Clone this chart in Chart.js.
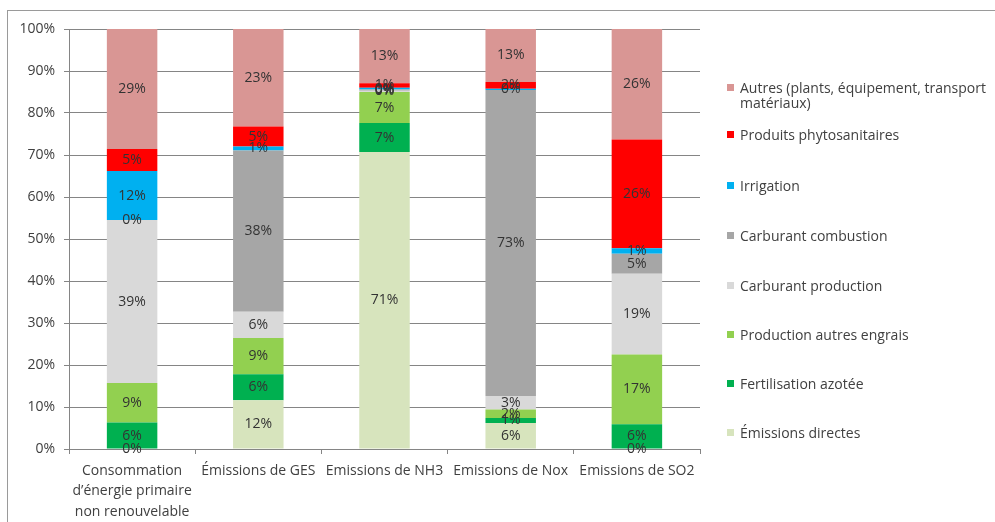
<!DOCTYPE html>
<html>
<head>
<meta charset="utf-8">
<script src="https://cdn.jsdelivr.net/npm/chart.js"></script>
<style>
  body { margin: 0; background: #fff; font-family: "Open Sans", sans-serif; }
  #wrap { position: relative; width: 995px; height: 522px; overflow: hidden; }
  #frame { position: absolute; left: 7px; top: 10px; width: 1000px; height: 600px; border: 1px solid #9a9a9a; pointer-events: none; }
  #legend { position: absolute; left: 0; top: 0; }
  .item { position: absolute; left: 727px; font-size: 14px; line-height: 15px; color: #404040; white-space: nowrap; }
  .item i { position: absolute; left: 0; top: 4px; width: 7px; height: 7px; }
  .item span { display: block; margin-left: 13px; }
</style>
</head>
<body>
<div id="wrap">
  <canvas id="chart" width="995" height="522"></canvas>
  <div id="legend"></div>
  <div id="frame"></div>
</div>
<script>
  const categories = [
    ['Consommation', 'd’énergie primaire', 'non renouvelable'],
    'Émissions de GES',
    'Emissions de NH3',
    'Emissions de Nox',
    'Emissions de SO2'
  ];

  // shares in % per category, stacked from the bottom up
  const emissionsDirectes   = [0,    11.6, 70.7, 6.2,  0];
  const fertilisationAzotee = [6.3,  6.2,  6.9,  1.2,  5.9];
  const productionEngrais   = [9.4,  8.6,  7.4,  2.0,  16.6];
  const carburantProduction = [38.8, 6.3,  0.3,  3.2,  19.2];
  const carburantCombustion = [0,    38.4, 0.3,  72.9, 4.8];
  const irrigation          = [11.7, 0.9,  0.4,  0.3,  1.3];
  const phytosanitaires     = [5.2,  4.8,  1.1,  1.6,  25.9];
  const autres              = [28.6, 23.2, 12.9, 12.6, 26.3];

  const yTicks = [0, 10, 20, 30, 40, 50, 60, 70, 80, 90, 100];

  const series = [
    { label: 'Émissions directes', data: emissionsDirectes, color: '#d7e4bd' },
    { label: 'Fertilisation azotée', data: fertilisationAzotee, color: '#00b050' },
    { label: 'Production autres engrais', data: productionEngrais, color: '#92d050' },
    { label: 'Carburant production', data: carburantProduction, color: '#d9d9d9' },
    { label: 'Carburant combustion', data: carburantCombustion, color: '#a6a6a6' },
    { label: 'Irrigation', data: irrigation, color: '#00b0f0' },
    { label: 'Produits phytosanitaires', data: phytosanitaires, color: '#ff0000' },
    { label: ['Autres (plants, équipement, transport', 'matériaux)'], data: autres, color: '#d99694' }
  ];

  const FONT = { family: '"Open Sans", sans-serif', size: 14, lineHeight: 1.45 };
  const AXIS = '#858585';

  // percentage written in the middle of every segment
  const segmentLabels = {
    id: 'segmentLabels',
    afterDatasetsDraw(chart) {
      const ctx = chart.ctx;
      ctx.save();
      ctx.font = `${FONT.size}px ${FONT.family}`;
      ctx.fillStyle = '#333333';
      ctx.textAlign = 'center';
      ctx.textBaseline = 'middle';
      chart.data.datasets.forEach((ds, i) => {
        chart.getDatasetMeta(i).data.forEach((bar, j) => {
          const { x, y, base } = bar.getProps(['x', 'y', 'base'], true);
          ctx.fillText(Math.round(ds.data[j]) + '%', x, (y + base) / 2);
        });
      });
      ctx.restore();
    }
  };

  new Chart(document.getElementById('chart'), {
    type: 'bar',
    data: {
      labels: categories,
      datasets: series.map(s => ({
        label: s.label,
        data: s.data,
        backgroundColor: s.color,
        borderWidth: 0,
        barPercentage: 0.4,
        categoryPercentage: 1
      }))
    },
    options: {
      responsive: false,
      animation: false,
      layout: { padding: { top: 29, right: 295, left: 0, bottom: 0 } },
      plugins: { legend: { display: false }, tooltip: { enabled: false } },
      scales: {
        x: {
          stacked: true,
          grid: { drawOnChartArea: false, color: AXIS, tickLength: 5 },
          border: { color: AXIS },
          ticks: { font: FONT, color: '#404040', padding: 7, maxRotation: 0 },
          afterFit: s => { s.height = 73; }
        },
        y: {
          stacked: true,
          min: 0,
          max: 100,
          afterBuildTicks: s => { s.ticks = yTicks.map(v => ({ value: v })); },
          grid: { color: AXIS, tickLength: 5 },
          border: { color: AXIS },
          ticks: { font: FONT, color: '#404040', padding: 9, callback: v => v + '%' },
          afterFit: s => { s.width = 69; }
        }
      }
    },
    plugins: [segmentLabels]
  });

  // legend on the right, top entry first
  const legendTops = [80, 127, 178, 228, 278, 327, 376, 425];
  const legendEl = document.getElementById('legend');
  series.slice().reverse().forEach((s, i) => {
    const text = [].concat(s.label).join('<br>');
    legendEl.insertAdjacentHTML('beforeend',
      `<div class="item" style="top:${legendTops[i]}px"><i style="background:${s.color}"></i><span>${text}</span></div>`);
  });
</script>
</body>
</html>
